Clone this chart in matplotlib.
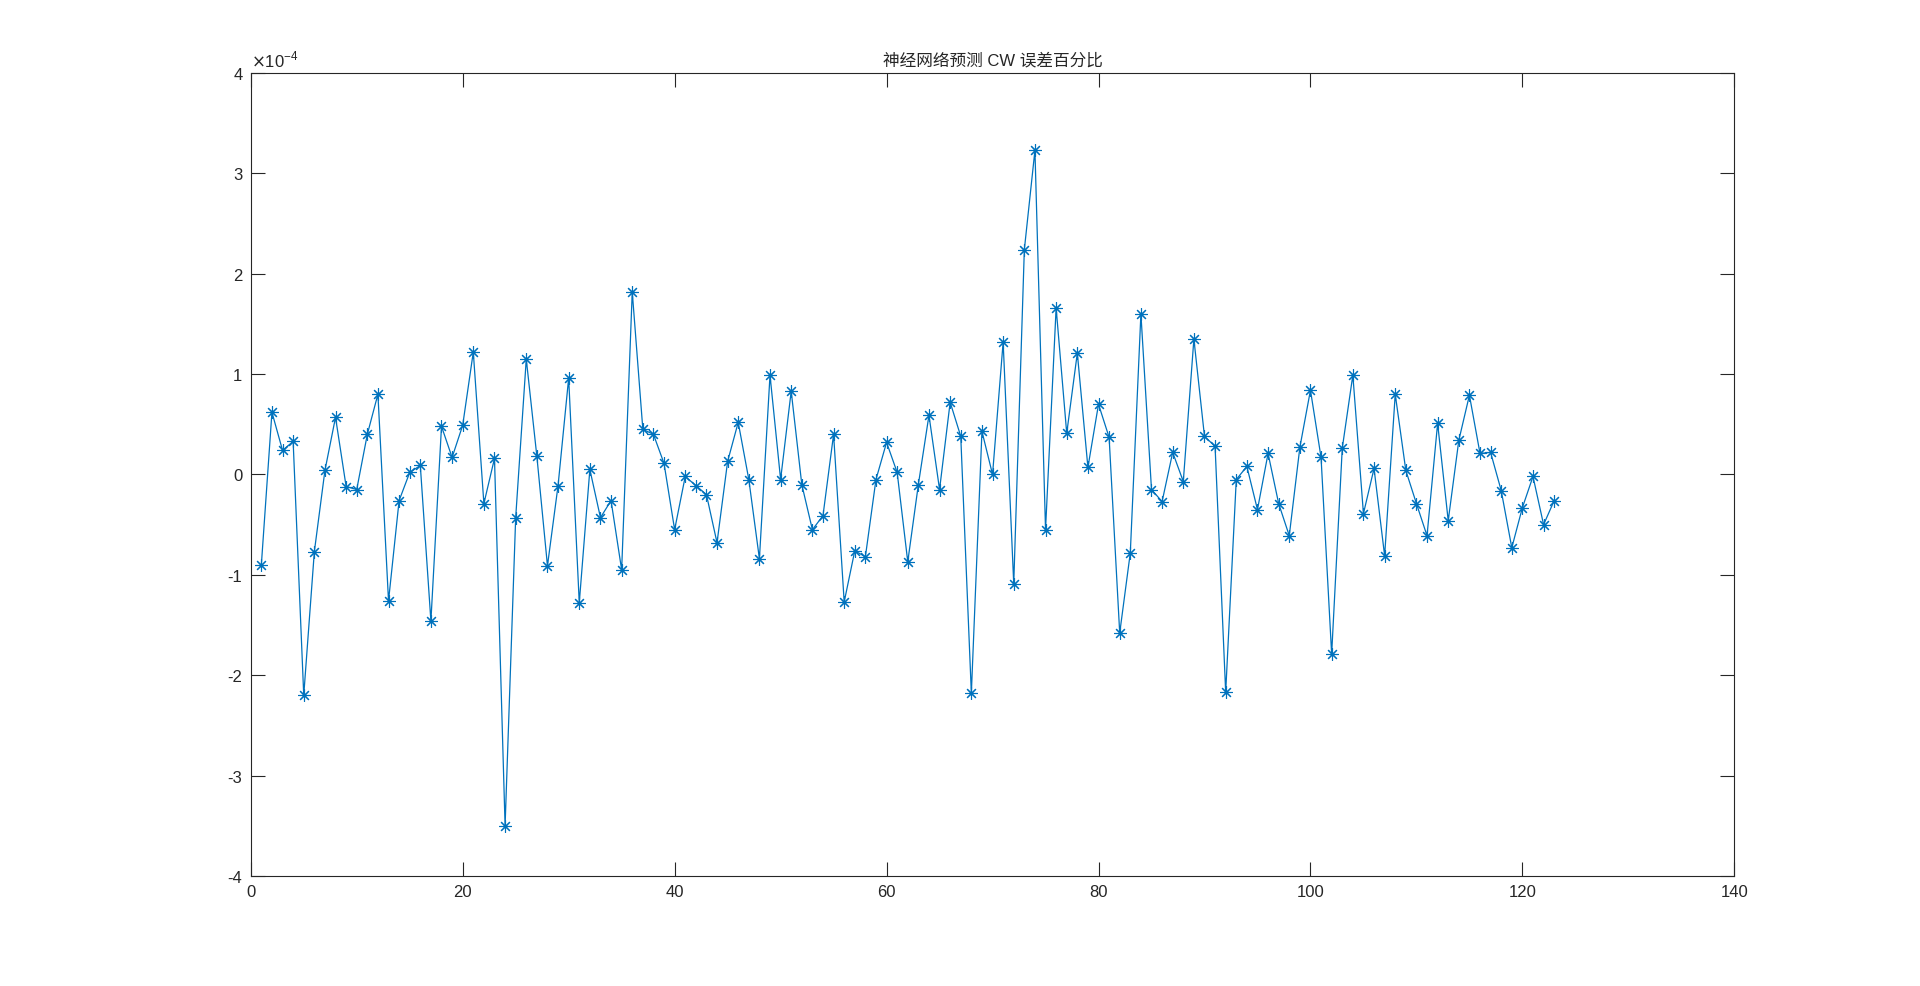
import numpy as np
import matplotlib.pyplot as plt
from matplotlib.ticker import FuncFormatter, MultipleLocator

plt.rcParams['font.family'] = ['Liberation Sans', 'Noto Sans CJK SC', 'DejaVu Sans']
plt.rcParams['axes.unicode_minus'] = False

# error values, in units of 1e-4
err = [
    -0.90, 0.62, 0.24, 0.33, -2.20, -0.77, 0.04, 0.57, -0.12, -0.15,
    0.40, 0.80, -1.26, -0.26, 0.02, 0.09, -1.46, 0.48, 0.17, 0.49,
    1.22, -0.29, 0.16, -3.50, -0.43, 1.15, 0.18, -0.91, -0.11, 0.96,
    -1.28, 0.05, -0.43, -0.26, -0.95, 1.82, 0.45, 0.40, 0.11, -0.55,
    -0.02, -0.11, -0.20, -0.68, 0.13, 0.52, -0.05, -0.84, 0.99, -0.05,
    0.83, -0.10, -0.55, -0.41, 0.40, -1.27, -0.76, -0.82, -0.05, 0.32,
    0.02, -0.87, -0.10, 0.59, -0.15, 0.72, 0.38, -2.18, 0.43, 0.00,
    1.32, -1.09, 2.24, 3.23, -0.55, 1.66, 0.41, 1.21, 0.07, 0.70,
    0.37, -1.58, -0.78, 1.60, -0.15, -0.27, 0.22, -0.07, 1.35, 0.38,
    0.28, -2.17, -0.05, 0.08, -0.35, 0.21, -0.29, -0.61, 0.27, 0.84,
    0.17, -1.79, 0.26, 0.99, -0.39, 0.06, -0.81, 0.80, 0.04, -0.29,
    -0.61, 0.51, -0.46, 0.34, 0.79, 0.21, 0.22, -0.16, -0.73, -0.33,
    -0.02, -0.50, -0.26,
]
idx = np.arange(1, len(err) + 1)
title = '神经网络预测 CW 误差百分比'

fig = plt.figure(figsize=(19.2, 9.87), dpi=100)
ax = fig.add_axes([0.1306, 0.1115, 0.7727, 0.8135])

ax.plot(idx, np.array(err) * 1e-4, color='#0072BD', linewidth=0.9,
        marker=(8, 2, 0), markersize=9, markeredgewidth=0.8)

ax.set_xlim(0, 140)
ax.set_ylim(-4e-4, 4e-4)
ax.xaxis.set_major_locator(MultipleLocator(20))
ax.yaxis.set_major_locator(MultipleLocator(1e-4))
ax.yaxis.set_major_formatter(FuncFormatter(lambda v, p: f'{round(v * 1e4):d}'))

col = '#262626'
ax.tick_params(direction='in', length=10, width=0.8, colors=col,
               labelsize=12, top=True, right=True, pad=6)
for s in ax.spines.values():
    s.set_color(col)
    s.set_linewidth(0.8)

# exponent label like MATLAB
ax.text(0.0, 1.004, r'$\times$10$^{\mathregular{-4}}$', transform=ax.transAxes,
        ha='left', va='bottom', fontsize=12, color=col)

ax.set_title(title, fontsize=12, color=col, pad=6)

fig.savefig('out.png', dpi=100, facecolor='white')
